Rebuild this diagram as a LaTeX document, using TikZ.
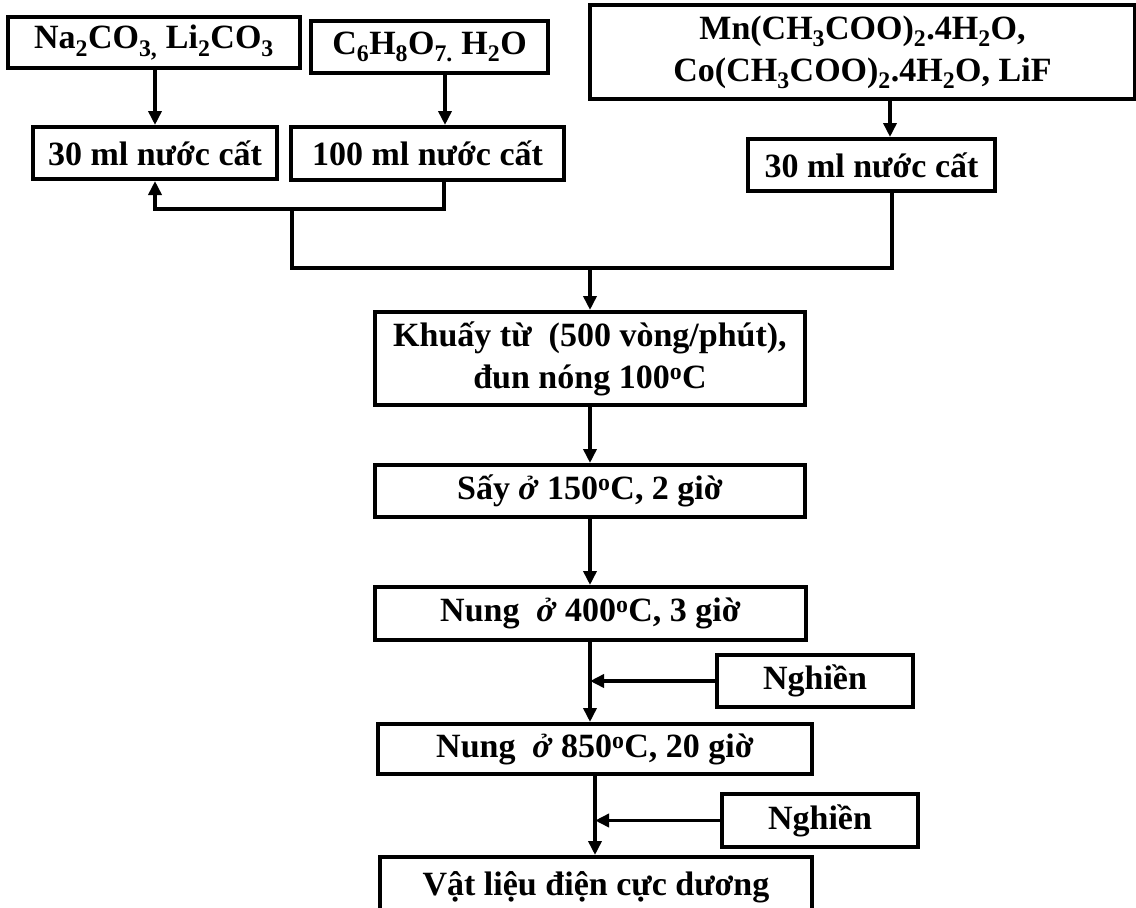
\documentclass[tikz,border=0pt]{standalone}
\usepackage{fontspec}
\setmainfont{Liberation Serif}
\usetikzlibrary{arrows.meta,calc}
\newcommand\chs[1]{\textsubscript{#1}}
\newcommand\chsup[1]{\textsuperscript{#1}}
\begin{document}
\begin{tikzpicture}[x=1pt,y=-1pt,
  box/.style={draw,line width=4pt,inner sep=0pt,font=\fontsize{34}{42}\selectfont\bfseries,align=center},
  conn/.style={line width=3.5pt},
  arr/.style={conn,-{Triangle[length=14pt,width=13pt]}}]
\useasboundingbox (0,0) rectangle (1136,908);
\node[box,minimum width=292pt,minimum height=51pt] (na) at (154,42.5) {Na\chs{2}CO\chs{3,} Li\chs{2}CO\chs{3}};
\node[box,minimum width=237pt,minimum height=52pt] (c6) at (429.5,47) {C\chs{6}H\chs{8}O\chs{7.} H\chs{2}O};
\node[box,minimum width=545pt,minimum height=94pt] (mn) at (862.5,52) {Mn(CH\chs{3}COO)\chs{2}.4H\chs{2}O,\\Co(CH\chs{3}COO)\chs{2}.4H\chs{2}O, LiF};
\node[box,minimum width=244pt,minimum height=52pt] (wl) at (155,153) {30 ml nước cất};
\node[box,minimum width=273pt,minimum height=53pt] (wm) at (427.5,153.5) {100 ml nước cất};
\node[box,minimum width=247pt,minimum height=52pt] (wr) at (871.5,165) {30 ml nước cất};
\node[box,minimum width=430pt,minimum height=93pt] (khuay) at (590,358.5) {Khuấy từ\ \ (500 vòng/phút),\\đun nóng 100\chsup{o}C};
\node[box,minimum width=430pt,minimum height=52pt] (say) at (590,491) {Sấy \textit{ở} 150\chsup{o}C, 2 giờ};
\node[box,minimum width=431pt,minimum height=53pt] (nung4) at (590.5,613.5) {Nung\ \ \textit{ở} 400\chsup{o}C, 3 giờ};
\node[box,minimum width=196pt,minimum height=52pt] (ngh1) at (815,681) {Nghiền};
\node[box,minimum width=434pt,minimum height=50pt] (nung8) at (595,749) {Nung\ \ \textit{ở} 850\chsup{o}C, 20 giờ};
\node[box,minimum width=196pt,minimum height=53pt] (ngh2) at (820,820.5) {Nghiền};
\node[box,minimum width=432pt,minimum height=60pt] (vat) at (596,887) {Vật liệu điện cực dương};
\coordinate (j1) at (292,207);
\coordinate (j2) at (292,268);
\coordinate (j3) at (590,268);
\draw[arr] (wl.north |- na.south) -- (wl.north);
\draw[arr] ([xshift=15.5pt]c6.south) -- ([xshift=15.5pt]c6.south |- wm.north);
\draw[arr] ([xshift=27.5pt]mn.south) -- ([xshift=27.5pt]mn.south |- wr.north);
\draw[arr] ([xshift=16.5pt]wm.south) -- ++(0,27) -| (wl.south);
\draw[conn] (j1) -- (j2) -| ([xshift=20.5pt]wr.south);
\draw[arr] (j3) -- (khuay.north);
\draw[arr] (khuay.south) -- (say.north);
\draw[arr] (say.south) -- (nung4.north -| say.south);
\draw[arr] (nung4.south -| say.south) -- (nung8.north -| say.south);
\draw[arr] (ngh1.west) -- (ngh1.west -| say.south);
\draw[arr] (nung8.south) -- (vat.north -| nung8.south);
\draw[arr] (ngh2.west) -- (ngh2.west -| nung8.south);
\end{tikzpicture}
\end{document}
